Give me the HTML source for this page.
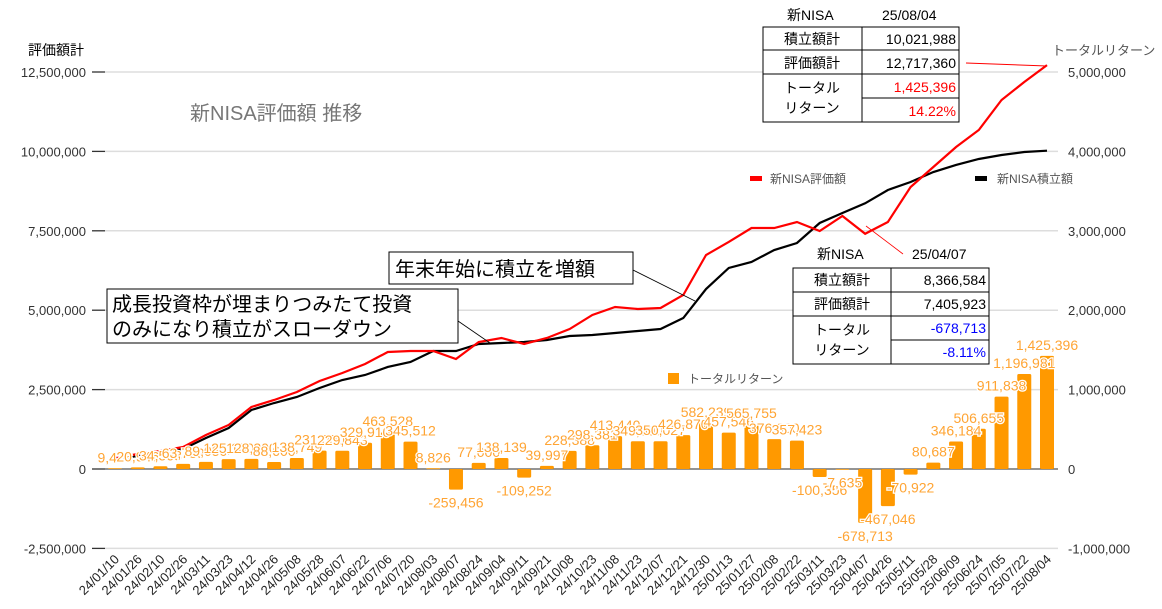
<!DOCTYPE html>
<html><head><meta charset="utf-8"><style>
body{margin:0;background:#fff;}
svg{display:block;font-family:"Liberation Sans","Noto Sans CJK JP",sans-serif;}
</style></head><body>
<svg id="chart" width="1162" height="609" viewBox="0 0 1162 609" xmlns="http://www.w3.org/2000/svg">
<g id="grid"></g>
<g id="lines"></g>
<g id="bars"></g>
<g id="barlabels"></g>
<g id="xlabels"></g>
<text x="28" y="55" font-size="14" fill="#000">評価額計</text>
<text x="1052" y="55" font-size="13" fill="#555">トータルリターン</text>
<text x="190" y="120" font-size="20" fill="#777">新NISA評価額 推移</text>
<g><rect x="750" y="176" width="12" height="5" fill="#ff0000"/><text x="770" y="183" font-size="12" fill="#555">新NISA評価額</text></g>
<g><rect x="975" y="176" width="12" height="5" fill="#000"/><text x="997" y="183" font-size="12" fill="#555">新NISA積立額</text></g>
<g><rect x="668" y="373" width="11" height="11" fill="#ff9900"/><text x="688" y="383" font-size="12" fill="#555">トータルリターン</text></g>
<g>
<line x1="633" y1="270" x2="695" y2="301" stroke="#000" stroke-width="0.8"/>
<rect x="389" y="252" width="244" height="32" fill="#fff" stroke="#000"/>
<text x="395" y="276" font-size="20">年末年始に積立を増額</text></g>
<g>
<line x1="458" y1="321" x2="490" y2="343" stroke="#000" stroke-width="0.8"/>
<rect x="107" y="289" width="351" height="54" fill="#fff" stroke="#000"/>
<text x="112" y="311" font-size="20">成長投資枠が埋まりつみたて投資</text>
<text x="112" y="336" font-size="20">のみになり積立がスローダウン</text></g>
<line x1="966" y1="63" x2="1047" y2="66" stroke="#f00" stroke-width="1"/>
<line x1="866" y1="226" x2="903" y2="254" stroke="#f00" stroke-width="0.8"/>
<g font-size="14">
<text x="787" y="20">新NISA</text><text x="882" y="20">25/08/04</text>
<rect x="763" y="27" width="196" height="95" fill="#fff" stroke="#000"/>
<line x1="862" y1="27" x2="862" y2="122" stroke="#000"/>
<line x1="763" y1="50" x2="959" y2="50" stroke="#000"/>
<line x1="763" y1="74" x2="959" y2="74" stroke="#000"/>
<line x1="862" y1="98" x2="959" y2="98" stroke="#000"/>
<text x="812" y="44" text-anchor="middle">積立額計</text><text x="956" y="44" text-anchor="end">10,021,988</text>
<text x="812" y="68" text-anchor="middle">評価額計</text><text x="956" y="68" text-anchor="end">12,717,360</text>
<text x="812" y="93" text-anchor="middle">トータル</text><text x="812" y="113" text-anchor="middle">リターン</text>
<text x="956" y="92" text-anchor="end" fill="#f00">1,425,396</text><text x="956" y="116" text-anchor="end" fill="#f00">14.22%</text>
</g>
<g font-size="14">
<text x="817" y="259">新NISA</text><text x="912" y="259">25/04/07</text>
<rect x="793" y="268" width="196" height="96" fill="#fff" stroke="#000"/>
<line x1="891" y1="268" x2="891" y2="364" stroke="#000"/>
<line x1="793" y1="292" x2="989" y2="292" stroke="#000"/>
<line x1="793" y1="316" x2="989" y2="316" stroke="#000"/>
<line x1="891" y1="340" x2="989" y2="340" stroke="#000"/>
<text x="842" y="285" text-anchor="middle">積立額計</text><text x="986" y="285" text-anchor="end">8,366,584</text>
<text x="842" y="309" text-anchor="middle">評価額計</text><text x="986" y="309" text-anchor="end">7,405,923</text>
<text x="842" y="335" text-anchor="middle">トータル</text><text x="842" y="355" text-anchor="middle">リターン</text>
<text x="986" y="333" text-anchor="end" fill="#00f">-678,713</text><text x="986" y="357" text-anchor="end" fill="#00f">-8.11%</text>
</g>
</svg>
<script>
const categories=["24/01/10","24/01/26","24/02/10","24/02/26","24/03/11","24/03/23","24/04/12","24/04/26","24/05/08","24/05/28","24/06/07","24/06/22","24/07/06","24/07/20","24/08/03","24/08/07","24/08/24","24/09/04","24/09/11","24/09/21","24/10/08","24/10/23","24/11/08","24/11/23","24/12/07","24/12/21","24/12/30","25/01/13","25/01/27","25/02/08","25/02/22","25/03/11","25/03/23","25/04/07","25/04/26","25/05/11","25/05/28","25/06/09","25/06/24","25/07/05","25/07/22","25/08/04"];
const returns=[9426,20946,34563,63789,89050,125100,128200,88600,138749,231000,229843,329910,463528,345512,8826,-259456,77000,138139,-109252,39997,228388,298381,413440,349000,350027,426870,582239,457546,565755,376000,357423,-100356,-7635,-678713,-467046,-70922,80687,346184,506655,911838,1196981,1425396];
const evaluation=[346000,472000,567000,693000,1071000,1386000,1952000,2173000,2424000,2771000,3023000,3306000,3684000,3715000,3715000,3463000,3999000,4125000,3936000,4125000,4408000,4849000,5101000,5038000,5069000,5479000,6738000,7148000,7588000,7588000,7777000,7494000,7966000,7405923,7777000,8879000,9509000,10138000,10674000,11618000,12185000,12717360];
const invested=[315000,410000,504000,630000,976000,1291000,1858000,2078000,2267000,2551000,2802000,2960000,3212000,3369000,3715000,3715000,3936000,3967000,3999000,4062000,4188000,4219000,4282000,4345000,4408000,4754000,5667000,6329000,6518000,6895000,7116000,7746000,8060000,8366584,8785000,9036000,9351000,9572000,9761000,9887000,9981000,10021988];
const leftTicks=[-2500000,0,2500000,5000000,7500000,10000000,12500000];
const rightTicks=[-1000000,0,1000000,2000000,3000000,4000000,5000000];
const NS="http://www.w3.org/2000/svg";
const X0=115,X1=1047;
function xs(i){return X0+(X1-X0)*i/(categories.length-1);}
function yl(v){return 469-(v/2500000)*79.4;}
function yr(v){return 469-(v/1000000)*79.4;}
function mk(tag,attrs,parent){const e=document.createElementNS(NS,tag);for(const k in attrs)e.setAttribute(k,attrs[k]);parent.appendChild(e);return e;}
function fmt(v){return v.toLocaleString("en-US");}
const grid=document.getElementById("grid");
leftTicks.forEach((t,i)=>{
 const y=yl(t);
 const g=mk("line",{x1:105,x2:1058,y1:y,y2:y,stroke:t===0?"#555":"#ddd","stroke-width":t===0?1.2:1.5},grid);
 
 
 mk("line",{x1:92,x2:105,y1:y,y2:y,stroke:"#333","stroke-width":1.3},grid);
 const tl=mk("text",{x:86,y:y+5,"text-anchor":"end","font-size":13,fill:"#333"},grid);
 tl.textContent=fmt(t);
 
 
 const tr=mk("text",{x:1068,y:yr(rightTicks[i])+5,"font-size":13,fill:"#333"},grid);
 tr.textContent=fmt(rightTicks[i]);
 
 
});
const bars=document.getElementById("bars"),bl=document.getElementById("barlabels"),xl=document.getElementById("xlabels");
returns.forEach((v,i)=>{
 const x=xs(i),y0=yr(0),y=yr(v);
 const r=mk("rect",{x:x-7,y:Math.min(y,y0),width:14,height:Math.max(Math.abs(y0-y),0.8),fill:"#ff9900",rx:1.5},bars);
 
 
 const t=mk("text",{x:x,y:v>=0?y-6:y+18,"text-anchor":"middle","font-size":14,fill:"#ffa433",stroke:"#fff","stroke-width":2.5,"paint-order":"stroke"},bl);
 t.textContent=fmt(v);
 
 
 const c=mk("text",{transform:"translate("+(x+5)+",560) rotate(-45)","text-anchor":"end","font-size":13,fill:"#222"},xl);
 c.textContent=categories[i];
 
 
});
const lines=document.getElementById("lines");
const pk=mk("polyline",{points:invested.map((v,i)=>xs(i)+","+yl(v)).join(" "),fill:"none",stroke:"#000","stroke-width":2.2},lines);


const pr=mk("polyline",{points:evaluation.map((v,i)=>xs(i)+","+yl(v)).join(" "),fill:"none",stroke:"#ff0000","stroke-width":2.2},lines);


</script>
</body></html>
